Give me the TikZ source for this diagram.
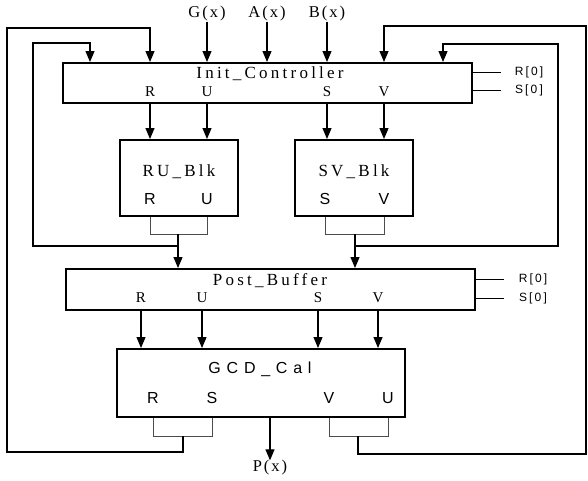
\documentclass[tikz,border=0pt]{standalone}
\usepackage{fontspec}
\setmainfont{Liberation Serif}
\setsansfont{Liberation Sans}
\usetikzlibrary{arrows.meta,positioning}
\tikzset{
  blok/.style={draw, line width=2pt, inner sep=0pt},
  sig/.style={line width=1.2pt, -{Triangle[length=11pt,width=9pt]}},
  wire/.style={line width=1.2pt},
  brk/.style={line width=0.8pt, draw=black!70},
  ttl/.style={font=\fontsize{17}{17}\selectfont\addfontfeature{LetterSpace=19}, inner sep=0pt},
  inp/.style={font=\fontsize{16.5}{16.5}\selectfont\addfontfeature{LetterSpace=12}, inner sep=0pt},
  gtl/.style={font=\sffamily\fontsize{16}{16}\selectfont\addfontfeature{LetterSpace=36}, inner sep=0pt},
  pin/.style={font=\fontsize{15}{15}\selectfont, inner sep=0pt},
  spin/.style={font=\sffamily\fontsize{16}{16}\selectfont, inner sep=0pt},
  tag/.style={font=\sffamily\fontsize{12}{12}\selectfont\addfontfeature{LetterSpace=18}, inner sep=0pt},
}
\begin{document}
\begin{tikzpicture}[x=1pt,y=-1pt]
  \useasboundingbox (0,0) rectangle (588,480);
  % boxes
  \node[blok, minimum width=409, minimum height=40] (init) at (267.5,83) {};
  \node[blok, minimum width=118, minimum height=76] (ru) at (179,178) {};
  \node[blok, minimum width=118, minimum height=76] (sv) at (354,178) {};
  \node[blok, minimum width=409, minimum height=41] (post) at (270.5,289.5) {};
  \node[blok, minimum width=288, minimum height=68] (gcd) at (261,383) {};
  % titles
  \node[ttl] (initT) at (270,74) {Init\_Controller};
  \node[ttl] (ruT) at (179,172) {RU\_Blk};
  \node[ttl] (svT) at (354,172) {SV\_Blk};
  \node[ttl] (postT) at (270,280.5) {Post\_Buffer};
  \node[gtl] (gcdT) at (260,369) {GCD\_Cal};
  % ports
  \node[pin] (iR) at (150,92) {R};
  \node[pin] (iU) at (207,92) {U};
  \node[pin] (iS) at (327,92) {S};
  \node[pin] (iV) at (384,92) {V};
  \node[spin] (rR) at (150,199) {R};
  \node[spin] (rU) at (207,199) {U};
  \node[spin] (sS) at (325,199) {S};
  \node[spin] (sV) at (384,199) {V};
  \node[pin] (pR) at (141,297.5) {R};
  \node[pin] (pU) at (202,297.5) {U};
  \node[pin] (pS) at (318,297.5) {S};
  \node[pin] (pV) at (378,297.5) {V};
  \node[spin] (gR) at (153,398) {R};
  \node[spin] (gS) at (212,398) {S};
  \node[spin] (gV) at (329,398) {V};
  \node[spin] (gU) at (388,398) {U};
  % inputs and output
  \node[inp] (gx) at (207,14) {G(x)};
  \node[inp] (ax) at (267,14) {A(x)};
  \node[inp] (bx) at (327,14) {B(x)};
  \node[inp] (px) at (270,468) {P(x)};
  \draw[sig] (gx.south) -- (gx |- init.north);
  \draw[sig] (ax.south) -- (ax |- init.north);
  \draw[sig] (bx.south) -- (bx |- init.north);
  \draw[sig] (px |- gcd.south) -- (px.north);
  % reset pins
  \node[tag] (ir0) at (529,72) {R[0]};
  \node[tag] (is0) at (529,90) {S[0]};
  \node[tag] (pr0) at (533,279) {R[0]};
  \node[tag] (ps0) at (533,298) {S[0]};
  \draw[line width=0.8pt] (init.east |- ir0) -- ++(28,0);
  \draw[line width=0.8pt] (init.east |- is0) -- ++(28,0);
  \draw[line width=0.8pt] (post.east |- pr0) -- ++(28,0);
  \draw[line width=0.8pt] (post.east |- ps0) -- ++(28,0);
  % init -> blocks
  \draw[sig] (iR |- init.south) -- (iR |- ru.north);
  \draw[sig] (iU |- init.south) -- (iU |- ru.north);
  \draw[sig] (iS |- init.south) -- (iS |- sv.north);
  \draw[sig] (iV |- init.south) -- (iV |- sv.north);
  % block brackets
  \coordinate (jRU) at (178,234);
  \coordinate (jSV) at (355,234);
  \draw[brk] (rR |- ru.south) |- (rU |- jRU) -- (rU |- ru.south);
  \draw[brk] (sS |- sv.south) |- (sV |- jSV) -- (sV |- sv.south);
  \draw[sig] (jRU) -- (jRU |- post.north);
  \draw[sig] (jSV) -- (jSV |- post.north);
  % inner feedback
  \coordinate (kRU) at (178,246);
  \coordinate (kSV) at (355,246);
  \coordinate (cRU) at (90,43);
  \coordinate (cSV) at (443,44);
  \draw[sig] (kRU) -- (33,246) -- (33,43) -- (cRU) -- (cRU |- init.north);
  \draw[sig] (kSV) -- (558,246) -- (558,44) -- (cSV) -- (cSV |- init.north);
  % post -> gcd
  \draw[sig] (pR |- post.south) -- (pR |- gcd.north);
  \draw[sig] (pU |- post.south) -- (pU |- gcd.north);
  \draw[sig] (pS |- post.south) -- (pS |- gcd.north);
  \draw[sig] (pV |- post.south) -- (pV |- gcd.north);
  % gcd brackets and outer feedback
  \coordinate (jRS) at (183,436);
  \coordinate (jVU) at (358,436);
  \coordinate (cRS) at (150,28);
  \coordinate (cVU) at (384,26);
  \draw[brk] (gR |- gcd.south) |- (gS |- jRS) -- (gS |- gcd.south);
  \draw[brk] (gV |- gcd.south) |- (gU |- jVU) -- (gU |- gcd.south);
  \draw[sig] (jRS) -- (183,452) -- (7,452) -- (7,28) -- (cRS) -- (cRS |- init.north);
  \draw[sig] (jVU) -- (358,454) -- (586,454) -- (586,26) -- (cVU) -- (cVU |- init.north);
\end{tikzpicture}
\end{document}
